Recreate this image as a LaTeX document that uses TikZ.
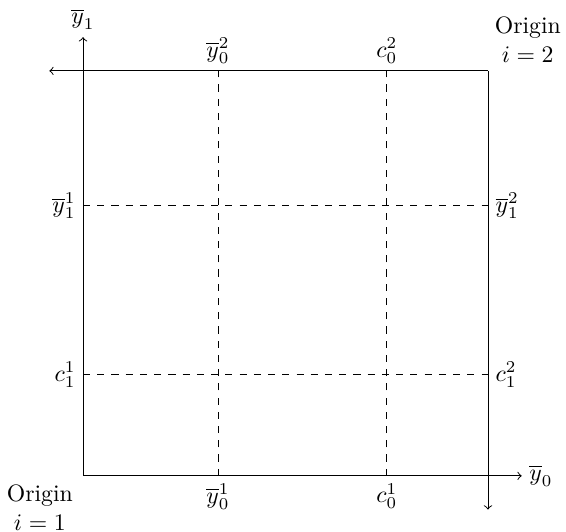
\documentclass[tikz,border=0pt]{standalone}
\usetikzlibrary{arrows}
\begin{document}
\begin{tikzpicture}[
  axis/.style={->},
  grid/.style={dashed},
  lbl/.style={inner sep=3pt}
]
\useasboundingbox (-1.23,-0.83) rectangle (7.156,7.05);
\coordinate (O1) at (0,0);
\coordinate (O2) at (6,6);
\coordinate (BR) at (6,0);
\coordinate (TL) at (0,6);
\coordinate (x0) at (6.5,0);
\coordinate (y1) at (0,6.5);
\coordinate (x2) at (-0.5,6);
\coordinate (y2) at (6,-0.5);
\coordinate (b2) at (2,0); \coordinate (b4) at (4.5,0);
\coordinate (t2) at (2,6); \coordinate (t4) at (4.5,6);
\coordinate (l2) at (0,1.5); \coordinate (l4) at (0,4);
\coordinate (r2) at (6,1.5); \coordinate (r4) at (6,4);
\draw[axis] (O1) -- (x0);
\draw[axis] (O1) -- (y1);
\draw[axis] (O2) -- (x2);
\draw[axis] (O2) -- (y2);
\draw (BR) -- (O2);
\draw (TL) -- (O2);
\draw (O1) -- (TL);
\draw[grid] (b2) -- (t2);
\draw[grid] (b4) -- (t4);
\draw[grid] (l2) -- (r2);
\draw[grid] (l4) -- (r4);
\node[lbl, right] (nx0) at (x0) {$\overline{y}_0$};
\node[lbl, above] (ny1) at (y1) {$\overline{y}_1$};
\node[lbl, below] (nb2) at (b2) {$\overline{y}_0^1$};
\node[lbl, below] (nb4) at (b4) {$c_0^1$};
\node[lbl, above] (nt2) at (t2) {$\overline{y}_0^2$};
\node[lbl, above] (nt4) at (t4) {$c_0^2$};
\node[lbl, left] (nl4) at (l4) {$\overline{y}_1^1$};
\node[lbl, left] (nl2) at (l2) {$c_1^1$};
\node[lbl, right] (nr4) at (r4) {$\overline{y}_1^2$};
\node[lbl, right] (nr2) at (r2) {$c_1^2$};
\node[align=center, inner sep=1pt] (or2) at (6.59,6.46) {Origin\\$i=2$};
\node[align=center, inner sep=1pt] (or1) at (-0.64,-0.47) {Origin\\$i=1$};
\end{tikzpicture}
\end{document}
